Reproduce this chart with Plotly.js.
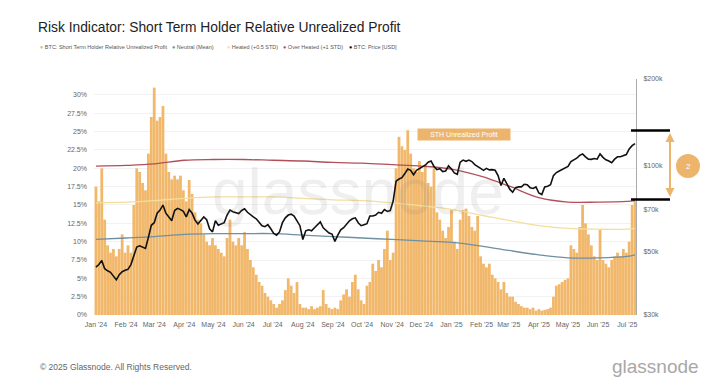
<!DOCTYPE html>
<html>
<head>
<meta charset="utf-8">
<script src="https://cdn.plot.ly/plotly-3.0.1.min.js"></script>
<style>
html,body{margin:0;padding:0;background:#fff;}
#chart{width:720px;height:384px;}
</style>
</head>
<body>
<div id="chart"></div>
<script>
// ---- DATA ----
const seriesStart = '2024-01-01';
const seriesStepDays = 3;

// BTC: Short Term Holder Relative Unrealized Profit (%)
const sthRup = [
  17.5, 15.5, 20, 13, 9.5, 8.5, 9, 8, 9, 11,
  8.5, 9.5, 8.5, 15, 20, 19.5, 18, 17, 22, 27,
  31, 26.5, 27, 28.5, 22, 19.5, 18.5, 19, 18.5, 19,
  17, 15.5, 18.4, 16.5, 14, 13, 12.5, 11, 10, 9.5,
  10.5, 9.5, 9, 8.5, 8, 10.5, 13, 10, 9.5, 10.5,
  9.5, 11.3, 9, 7.5, 6.5, 5.5, 4.5, 4, 3, 2.5,
  2, 1.5, 1, 1.5, 2, 3.4, 5, 4, 3, 4.5,
  1.5, 1, 1, 0.8, 1.2, 0.8, 1, 1.2, 3.4, 1.5,
  1, 0.8, 1, 0.8, 2, 2.8, 3.5, 2.5, 4.5, 5.5,
  3.5, 2, 1.5, 4, 4.5, 7, 6, 7.5, 6.5, 9,
  11.5, 7.5, 8.5, 20, 24.3, 23, 22.5, 25.2, 22, 20,
  19.5, 21, 19.5, 20.5, 18, 17.5, 20, 14, 13, 11.5,
  10.5, 12, 14.3, 10, 9, 13, 14.3, 14.5, 13.5, 12,
  11.5, 13.5, 8, 7, 6.5, 7, 5.5, 5, 4.5, 3.5,
  4.5, 3, 2.5, 2.5, 1.8, 1.5, 1.2, 1, 1, 0.8,
  1, 0.6, 0.8, 0.6, 0.7, 0.8, 1, 2.5, 4, 4.2,
  4.5, 4.8, 5, 9.5, 9, 8.5, 12, 15, 12.5, 11,
  9.5, 8, 7.5, 11.6, 7.5, 7, 6.5, 7.5, 8, 8.5,
  8, 9, 8.5, 10, 15, 15.5
];

// BTC: Price [USD], in thousands
const btcPriceK = [
  44.1, 45, 46.5, 43.5, 42.8, 42.3, 41, 39.8, 41.5, 42.5,
  43, 43.3, 45, 48.5, 51.8, 52.3, 51.8, 51.2, 56, 61.7,
  63, 68, 69.7, 72.6, 68, 66, 64, 69.5, 70.7, 70,
  69, 66, 70, 68, 64.3, 62.4, 64, 66, 64.5, 60,
  58.5, 64, 61.7, 62.5, 63, 67, 69.7, 68.8, 68.5, 67.8,
  69.5, 70.5, 68.5, 67, 66, 65, 63, 61.5, 61, 62,
  60, 57.8, 57, 58.5, 63, 65.5, 67, 67.5, 66.5, 64,
  61.5, 55, 59, 59.5, 59, 60.5, 62, 63.4, 60.5, 59.3,
  58, 57.5, 54.2, 57, 59.5, 60.5, 62.5, 64, 65, 65.5,
  63, 61.5, 62, 62.5, 66.5, 66.5, 67, 68.5, 68, 70,
  69, 69.5, 75, 88, 89.5, 90.5, 93.5, 97, 96, 92.6,
  96, 97.2, 98.5, 100, 102.5, 103.5, 99, 96.5, 97.3, 95,
  95.5, 99.5, 97, 94, 93, 102.5, 104.2, 103.2, 104.2, 103,
  100.5, 98.7, 97.5, 96, 97.5, 96.3, 96.5, 96, 92, 85,
  90, 86.3, 82.5, 80.5, 83.5, 84, 84, 85.8, 85.5, 83.5,
  83, 84, 80, 79, 84, 84.5, 85.5, 92, 94.3, 95.5,
  96.5, 97.5, 99, 103, 104.5, 105.8, 108.3, 109.5, 107, 105,
  104.8, 105.5, 105, 109.5, 106.5, 104.5, 103.5, 102, 105, 107,
  107, 108, 109, 114, 117, 119
];

// Bands (monthly readings)
const bandDates = [
  '2024-01-01','2024-02-01','2024-03-01','2024-04-01','2024-05-01','2024-06-01',
  '2024-07-01','2024-08-01','2024-09-01','2024-10-01','2024-11-01','2024-12-01',
  '2025-01-01','2025-02-01','2025-03-01','2025-04-01','2025-05-01','2025-06-01',
  '2025-07-01','2025-07-09'
];
const neutralMean = [10.3, 10.5, 10.7, 11.0, 11.1, 11.1, 11.1, 10.9, 10.7, 10.5, 10.3, 10.1, 9.9, 9.4, 8.8, 8.2, 7.8, 7.8, 8.0, 8.2];
const heated05 = [15.3, 15.4, 15.6, 15.9, 16.1, 16.1, 16.1, 15.9, 15.7, 15.6, 15.3, 14.9, 14.4, 13.6, 12.9, 12.2, 11.8, 11.7, 11.7, 11.8];
const overHeated1 = [20.3, 20.4, 20.6, 21.1, 21.2, 21.2, 21.1, 21.0, 20.8, 20.7, 20.5, 20.3, 19.9, 18.9, 17.6, 16.0, 15.4, 15.4, 15.5, 15.6];

const leftTicks = [0, 2.5, 5, 7.5, 10, 12.5, 15, 17.5, 20, 22.5, 25, 27.5, 30];
const leftTickText = ['0%', '2.5%', '5%', '7.5%', '10%', '12.5%', '15%', '17.5%', '20%', '22.5%', '25%', '27.5%', '30%'];
const rightTickVals = [30, 50, 70, 100, 200];
const rightTickText = ['$30k', '$50k', '$70k', '$100k', '$200k'];

const legendItems = [
  {name: 'BTC: Short Term Holder Relative Unrealized Profit', color: '#F0B060'},
  {name: 'Neutral (Mean)', color: '#7B8E9A'},
  {name: 'Heated (+0.5 STD)', color: '#F3E0A0'},
  {name: 'Over Heated (+1 STD)', color: '#B0505A'},
  {name: 'BTC: Price [USD]', color: '#111111'}
];

// ---- BUILD ----
function seriesDates(n) {
  const out = [];
  const t0 = Date.parse(seriesStart + 'T00:00:00Z');
  for (let i = 0; i < n; i++) {
    out.push(new Date(t0 + i * seriesStepDays * 86400000).toISOString().slice(0, 10));
  }
  return out;
}
const dates = seriesDates(sthRup.length);

// plot box in pixels
const L = 94, R = 636, T = 79, B = 315;
const px = x => (x - L) / (R - L);
const py = y => (B - y) / (B - T);

const traces = [
  {type: 'bar', x: dates, y: sthRup, marker: {color: '#F1B86C', line: {width: 0}}, yaxis: 'y', hoverinfo: 'skip'},
  {type: 'scatter', mode: 'lines', x: bandDates, y: neutralMean, line: {color: '#6F8FA2', width: 1.3, shape: 'spline'}, yaxis: 'y'},
  {type: 'scatter', mode: 'lines', x: bandDates, y: heated05, line: {color: '#F3DE9E', width: 1.3, shape: 'spline'}, yaxis: 'y'},
  {type: 'scatter', mode: 'lines', x: bandDates, y: overHeated1, line: {color: '#B0505A', width: 1.3, shape: 'spline'}, yaxis: 'y'},
  {type: 'scatter', mode: 'lines', x: dates, y: btcPriceK, line: {color: '#111', width: 1.6}, yaxis: 'y2'}
];

const tickFont = {family: 'Liberation Sans, Arial, sans-serif', size: 7, color: '#666'};

const annotations = [];
// legend
const legendX = [38, 170, 225, 281, 347];
legendItems.forEach((it, k) => {
  annotations.push({
    xref: 'paper', yref: 'paper', x: px(legendX[k]), y: py(47), xanchor: 'left', yanchor: 'middle',
    showarrow: false,
    text: '<span style="color:' + it.color + '">●</span> ' + it.name,
    font: {family: 'Liberation Sans, Arial, sans-serif', size: 5.5, color: '#555'}
  });
});
// watermark
annotations.push({
  xref: 'paper', yref: 'paper', x: px(358), y: py(192), xanchor: 'center', yanchor: 'middle',
  showarrow: false, text: 'glassnode',
  font: {family: 'Liberation Sans, Arial, sans-serif', size: 64, color: 'rgba(120,120,120,0.12)'}
});
// STH label
annotations.push({
  xref: 'paper', yref: 'paper', x: px(464), y: py(134), xanchor: 'center', yanchor: 'middle',
  showarrow: false, text: 'STH Unrealized Profit',
  font: {family: 'Liberation Sans, Arial, sans-serif', size: 7, color: '#fff'},
  bgcolor: '#EDB46C', borderpad: 2, width: 88
});
// circle number
annotations.push({
  xref: 'paper', yref: 'paper', x: px(688), y: py(166), xanchor: 'center', yanchor: 'middle',
  showarrow: false, text: '2',
  font: {family: 'Liberation Sans, Arial, sans-serif', size: 8, color: '#fff'}
});
// footer
annotations.push({
  xref: 'paper', yref: 'paper', x: px(38), y: py(367), xanchor: 'left', yanchor: 'middle',
  showarrow: false, text: '© 2025 Glassnode. All Rights Reserved.',
  font: {family: 'Liberation Sans, Arial, sans-serif', size: 8.5, color: '#666'}
});
annotations.push({
  xref: 'paper', yref: 'paper', x: px(701), y: py(366), xanchor: 'right', yanchor: 'middle',
  showarrow: false, text: 'glassnode',
  font: {family: 'Liberation Sans, Arial, sans-serif', size: 19, color: '#a8a8a8'}
});

const orange = '#EDB46C';
const shapes = [
  {type: 'line', xref: 'paper', yref: 'paper', x0: px(631), x1: px(670), y0: py(130.5), y1: py(130.5), line: {color: '#000', width: 2.5}},
  {type: 'line', xref: 'paper', yref: 'paper', x0: px(631), x1: px(670), y0: py(199.5), y1: py(199.5), line: {color: '#000', width: 2.5}},
  {type: 'line', xref: 'paper', yref: 'paper', x0: px(670), x1: px(670), y0: py(138), y1: py(192), line: {color: orange, width: 2}},
  {type: 'path', xref: 'paper', yref: 'paper', path: 'M' + px(665.5) + ',' + py(142) + ' L' + px(674.5) + ',' + py(142) + ' L' + px(670) + ',' + py(133) + ' Z', fillcolor: orange, line: {width: 0}},
  {type: 'path', xref: 'paper', yref: 'paper', path: 'M' + px(665.5) + ',' + py(188) + ' L' + px(674.5) + ',' + py(188) + ' L' + px(670) + ',' + py(197) + ' Z', fillcolor: orange, line: {width: 0}},
  {type: 'circle', xref: 'paper', yref: 'paper', x0: px(676), x1: px(700), y0: py(154), y1: py(178), fillcolor: orange, line: {width: 0}}
];

const layout = {
  width: 720, height: 384,
  margin: {l: L, r: 720 - R, t: T, b: 384 - B, pad: 0},
  paper_bgcolor: '#fff', plot_bgcolor: '#fff',
  showlegend: false,
  bargap: 0.04,
  title: {
    text: 'Risk Indicator: Short Term Holder Relative Unrealized Profit',
    x: 38 / 720, xanchor: 'left', xref: 'container',
    y: 1 - 27 / 384, yanchor: 'middle', yref: 'container',
    font: {family: 'Liberation Sans, Arial, sans-serif', size: 13.8, color: '#222'}
  },
  xaxis: {
    type: 'date', range: ['2023-12-30', '2025-07-10'],
    tickformat: "%b '%y", dtick: 'M1', tick0: '2024-01-01',
    showgrid: false, zeroline: false, showline: false, ticks: '',
    tickfont: tickFont, ticklabelstandoff: 4
  },
  yaxis: {
    range: [0, 32.18], tickmode: 'array', tickvals: leftTicks, ticktext: leftTickText,
    showgrid: true, gridcolor: '#f2f2f2', gridwidth: 1, zeroline: false,
    showline: false, ticks: '', tickfont: tickFont, ticklabelstandoff: 6
  },
  yaxis2: {
    overlaying: 'y', side: 'right', type: 'log',
    range: [Math.log10(30), Math.log10(200)],
    tickmode: 'array', tickvals: rightTickVals, ticktext: rightTickText,
    showgrid: false, zeroline: false, showline: true, linecolor: '#aaa', linewidth: 1,
    ticks: '', tickfont: tickFont, ticklabelstandoff: 5
  },
  annotations: annotations,
  shapes: shapes
};

Plotly.newPlot('chart', traces, layout, {displayModeBar: false, staticPlot: true});
</script>
</body>
</html>
